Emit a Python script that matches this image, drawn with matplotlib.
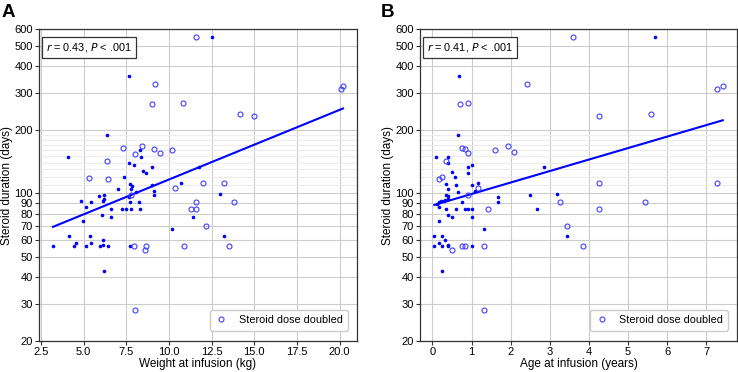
import matplotlib
matplotlib.use("Agg")
import matplotlib.pyplot as plt
import numpy as np
from matplotlib.ticker import FixedLocator, NullFormatter

plt.rcParams['font.family'] = ['Liberation Sans', 'DejaVu Sans']

# Panel A: weight at infusion (kg) vs steroid duration (days)
wt_std = [3.2, 4.1, 4.13, 4.43, 4.56, 4.83, 4.97, 5.11, 5.13, 5.38, 5.42, 5.44, 5.88, 5.98,
          6.06, 6.12, 6.12, 6.16, 6.18, 6.18, 6.18, 6.39, 6.43, 6.58, 6.58, 7.02, 7.27, 7.34,
          7.48, 7.66, 7.66, 7.68, 7.72, 7.73, 7.73, 7.77, 7.80, 7.83, 7.95, 8.07, 8.24, 8.30,
          8.32, 8.38, 8.47, 8.67, 8.98, 9.02, 9.13, 9.15, 10.2, 10.69, 11.39, 11.76, 12.5,
          12.97, 13.2]
dur_wt_std = [56, 148, 63, 56, 58, 92, 74, 86, 56, 63, 58, 91, 97, 56,
              79, 92, 60, 57, 98, 94, 43, 189, 56, 84, 77, 105, 84, 120,
              84, 360, 139, 96, 111, 91, 56, 84, 105, 108, 136, 102, 91, 84,
              161, 149, 127, 125, 133, 109, 103, 98, 68, 112, 77, 133, 550,
              99, 63]
wt_dbl = [5.34, 6.37, 6.43, 7.28, 7.75, 7.97, 7.99, 8.0, 8.43, 8.61, 8.65, 9.0, 9.15, 9.19,
          9.48, 10.2, 10.36, 10.84, 10.9, 11.29, 11.58, 11.6, 11.6, 12.01, 12.15, 13.2, 13.49,
          13.8, 14.17, 15.0, 20.09, 20.2]
dur_wt_dbl = [118, 142, 117, 165, 98, 56, 154, 28, 168, 54, 56, 265, 162, 330,
              156, 161, 106, 269, 56, 84, 550, 91, 84, 112, 70, 112, 56,
              91, 238, 233, 313, 323]

# Panel B: age at infusion (years) vs steroid duration (days)
age_std = [0.05, 0.05, 0.08, 0.12, 0.16, 0.17, 0.17, 0.17, 0.22, 0.25, 0.25, 0.25, 0.29,
           0.33, 0.33, 0.34, 0.34, 0.34, 0.40, 0.41, 0.41, 0.41, 0.41, 0.41, 0.41, 0.41,
           0.5, 0.5, 0.58, 0.59, 0.59, 0.66, 0.66, 0.67, 0.75, 0.83, 0.92, 0.92, 0.92, 1.0,
           1.0, 1.0, 1.0, 1.0, 1.09, 1.17, 1.33, 1.67, 1.67, 2.5, 2.68, 2.84, 3.18, 3.43, 5.68]
dur_age_std = [63, 56, 148, 89, 86, 74, 58, 91, 92, 63, 56, 43, 92,
               60, 93, 111, 98, 84, 149, 139, 105, 97, 94, 79, 57, 56,
               126, 77, 120, 109, 84, 189, 102, 360, 91, 84, 133, 125, 84, 136,
               109, 84, 77, 56, 103, 112, 68, 96, 91, 98, 84, 133, 99, 63, 550]
age_dbl = [0.17, 0.25, 0.34, 0.5, 0.70, 0.75, 0.75, 0.83, 0.83, 0.92, 0.92, 0.92, 1.17, 1.33,
           1.33, 1.42, 1.59, 1.92, 2.08, 2.42, 3.26, 3.43, 3.59, 3.84, 4.25, 4.25, 4.25, 5.42,
           5.59, 7.26, 7.27, 7.42]
dur_age_dbl = [117, 119, 142, 54, 265, 165, 56, 162, 56, 269, 155, 98, 106, 56,
               28, 84, 161, 168, 157, 330, 91, 70, 550, 56, 233, 112, 84, 91,
               238, 313, 112, 323]

y_ticks = [20, 30, 40, 50, 60, 70, 80, 90, 100, 200, 300, 400, 500, 600]
y_minor = [110, 120, 130, 140, 150, 160, 170, 180, 190]

panels = [
    dict(letter='A', x_std=wt_std, y_std=dur_wt_std, x_dbl=wt_dbl, y_dbl=dur_wt_dbl,
         xlabel='Weight at infusion (kg)', stat=r'$r$ = 0.43, $P$ < .001',
         xticks=[2.5, 5.0, 7.5, 10.0, 12.5, 15.0, 17.5, 20.0], xlim=(2.4, 21.0),
         fmt='{:.1f}', rect=[0.0533, 0.0841, 0.430, 0.8371], lx=0.002),
    dict(letter='B', x_std=age_std, y_std=dur_age_std, x_dbl=age_dbl, y_dbl=dur_age_dbl,
         xlabel='Age at infusion (years)', stat=r'$r$ = 0.41, $P$ < .001',
         xticks=[0, 1, 2, 3, 4, 5, 6, 7], xlim=(-0.31, 7.78),
         fmt='{:.0f}', rect=[0.5695, 0.0841, 0.429, 0.8371], lx=0.516),
]

fig = plt.figure(figsize=(7.38, 3.72), dpi=100)

for p in panels:
    ax = fig.add_axes(p['rect'])
    ax.set_yscale('log')

    ax.plot(p['x_std'], p['y_std'], 'o', color='#0000ff', ms=2.6, mew=0, zorder=3)
    ax.plot(p['x_dbl'], p['y_dbl'], 'o', mfc='none', mec='#4040ff', ms=3.6, mew=0.8,
            zorder=3, label='Steroid dose doubled')

    # log-linear regression over all patients
    xs = np.array(p['x_std'] + p['x_dbl'], dtype=float)
    ys = np.array(p['y_std'] + p['y_dbl'], dtype=float)
    b, a = np.polyfit(xs, np.log(ys), 1)
    xx = np.array([xs.min(), xs.max()])
    ax.plot(xx, np.exp(a + b * xx), color='#0000ff', lw=1.5, zorder=2)

    ax.set_ylim(20, 600)
    ax.set_xlim(*p['xlim'])
    ax.yaxis.set_major_locator(FixedLocator(y_ticks))
    ax.yaxis.set_minor_locator(FixedLocator(y_minor))
    ax.set_yticklabels([str(t) for t in y_ticks])
    ax.yaxis.set_minor_formatter(NullFormatter())
    ax.set_xticks(p['xticks'])
    ax.set_xticklabels([p['fmt'].format(t) for t in p['xticks']])
    ax.tick_params(axis='both', which='major', labelsize=8, length=3, width=0.8,
                   color='#333333', pad=1.5)
    ax.tick_params(axis='y', which='minor', length=0)

    ax.grid(True, which='major', color='#cccccc', lw=0.8, zorder=0)
    ax.grid(True, which='minor', axis='y', color='#ececec', lw=0.8, zorder=0)
    ax.set_axisbelow(True)
    for s in ax.spines.values():
        s.set_color('#333333')
        s.set_linewidth(0.9)

    ax.set_xlabel(p['xlabel'], fontsize=8.5, labelpad=1)
    ax.set_ylabel('Steroid duration (days)', fontsize=8.5, labelpad=1)

    ax.text(0.022, 0.963, p['stat'], transform=ax.transAxes, fontsize=7.8, va='top', ha='left',
            bbox=dict(boxstyle='square,pad=0.4', fc='white', ec='#333333', lw=0.9), zorder=5)

    ax.legend(loc='lower right', fontsize=7.8, frameon=True, fancybox=True, framealpha=1,
              edgecolor='#cccccc', handlelength=1.2, handletextpad=1.0, borderpad=0.5,
              bbox_to_anchor=(0.99, 0.015))

    fig.text(p['lx'], 0.988, p['letter'], fontsize=13.5, fontweight='bold', va='top', ha='left')

fig.savefig('out.png', dpi=100)
